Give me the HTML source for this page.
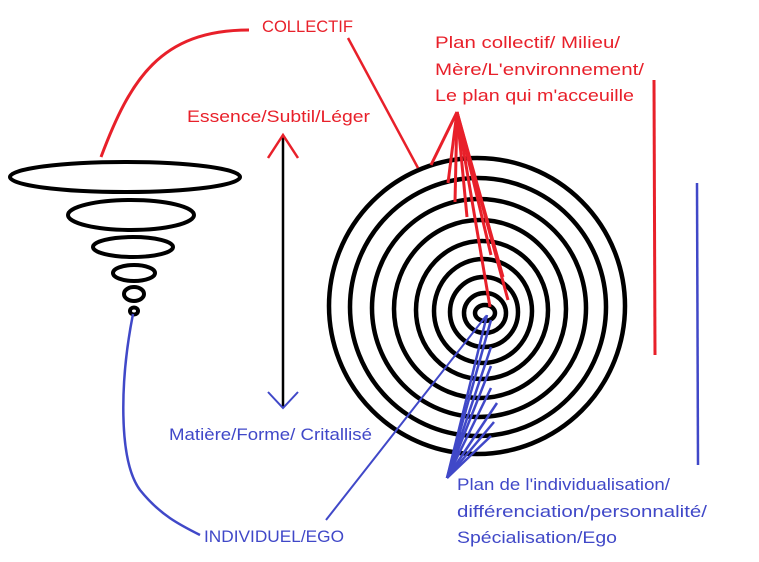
<!DOCTYPE html>
<html><head><meta charset="utf-8"><style>
html,body{margin:0;padding:0;background:#fff;}
svg{display:block;}
text{font-family:"Liberation Sans",sans-serif;font-size:17px;}
.r{fill:#e8202a;} .b{fill:#4048c8;}
</style></head><body>
<svg width="759" height="562" viewBox="0 0 759 562" xmlns="http://www.w3.org/2000/svg">
<g fill="none" stroke="#000" stroke-width="4">
<ellipse cx="125" cy="177" rx="115" ry="15"/>
<ellipse cx="131" cy="215" rx="63" ry="15"/>
<ellipse cx="133" cy="247" rx="40" ry="10"/>
<ellipse cx="134" cy="273" rx="21" ry="8"/>
<ellipse cx="134" cy="294" rx="10" ry="7"/>
<ellipse cx="134" cy="311" rx="4" ry="3.5"/>
</g>
<g fill="none" stroke="#000" stroke-width="4.5">
<ellipse cx="477" cy="306" rx="148" ry="148"/>
<ellipse cx="478" cy="307" rx="128" ry="129"/>
<ellipse cx="479" cy="308" rx="107" ry="109"/>
<ellipse cx="480" cy="309" rx="86" ry="89"/>
<ellipse cx="482" cy="310" rx="66" ry="69"/>
<ellipse cx="483" cy="311" rx="49" ry="52"/>
<ellipse cx="484" cy="312" rx="34" ry="35"/>
<ellipse cx="485" cy="313" rx="21" ry="20"/>
<ellipse cx="485" cy="313" rx="10" ry="8"/>
</g>
<line x1="283" y1="136" x2="283" y2="408" stroke="#000" stroke-width="2.5"/>
<polyline points="268,158 283,135 298,158" fill="none" stroke="#e8202a" stroke-width="2.5"/>
<polyline points="268,392 283,408 298,392" fill="none" stroke="#4048c8" stroke-width="2"/>
<g stroke="#e8202a" fill="none">
<path d="M101,157 C130,80 160,30 249,30" stroke-width="3"/>
<line x1="348" y1="38" x2="418" y2="168" stroke-width="2.5"/>
<line x1="654" y1="80" x2="655" y2="355" stroke-width="3"/>
<g stroke-width="3">
<line x1="457" y1="112" x2="431" y2="165"/>
<line x1="457" y1="112" x2="448" y2="183"/>
<line x1="457" y1="112" x2="455" y2="202"/>
<line x1="457" y1="112" x2="467" y2="217"/>
<line x1="457" y1="112" x2="491" y2="255"/>
<line x1="457" y1="112" x2="503" y2="277"/>
<line x1="457" y1="112" x2="508" y2="300"/>
<line x1="457" y1="112" x2="490" y2="307"/>
</g></g>
<g stroke="#4048c8" fill="none" stroke-width="2.5">
<path d="M133,314 C120,380 118,460 140,490 C160,515 180,525 200,535"/>
<line x1="697" y1="183" x2="698" y2="465"/>
<line x1="486" y1="316" x2="326" y2="520" stroke-width="2"/>
<line x1="447" y1="478" x2="487" y2="315"/>
<line x1="447" y1="478" x2="491" y2="320"/>
<line x1="447" y1="478" x2="491" y2="347"/>
<line x1="447" y1="478" x2="491" y2="366"/>
<line x1="447" y1="478" x2="491" y2="388"/>
<line x1="447" y1="478" x2="497" y2="403"/>
<line x1="447" y1="478" x2="494" y2="422"/>
<line x1="447" y1="478" x2="491" y2="436"/>
</g>
<text class="r" x="262" y="32" textLength="91" lengthAdjust="spacingAndGlyphs">COLLECTIF</text>
<text class="r" x="187" y="122" textLength="183" lengthAdjust="spacingAndGlyphs">Essence/Subtil/Léger</text>
<text class="r" x="435" y="48" textLength="185" lengthAdjust="spacingAndGlyphs">Plan collectif/ Milieu/</text>
<text class="r" x="435" y="75" textLength="209" lengthAdjust="spacingAndGlyphs">Mère/L'environnement/</text>
<text class="r" x="435" y="101" textLength="199" lengthAdjust="spacingAndGlyphs">Le plan qui m'acceuille</text>
<text class="b" x="169" y="440" textLength="203" lengthAdjust="spacingAndGlyphs">Matière/Forme/ Critallisé</text>
<text class="b" x="204" y="542" textLength="140" lengthAdjust="spacingAndGlyphs">INDIVIDUEL/EGO</text>
<text class="b" x="457" y="490" textLength="213" lengthAdjust="spacingAndGlyphs">Plan de l'individualisation/</text>
<text class="b" x="457" y="517" textLength="250" lengthAdjust="spacingAndGlyphs">différenciation/personnalité/</text>
<text class="b" x="457" y="543" textLength="160" lengthAdjust="spacingAndGlyphs">Spécialisation/Ego</text>
</svg>
</body></html>
